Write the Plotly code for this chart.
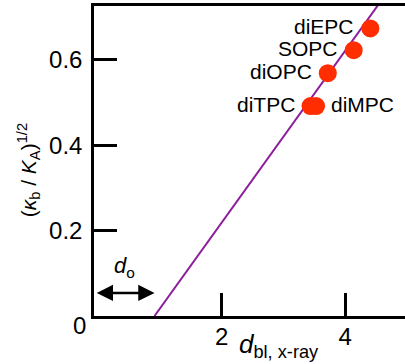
import plotly.graph_objects as go

# ---- data ----
lipids = ["diEPC", "SOPC", "diOPC", "diTPC", "diMPC"]
d_bl = [4.41, 4.14, 3.72, 3.44, 3.53]
ratio = [0.674, 0.623, 0.569, 0.492, 0.492]
label_side = ["left", "left", "left", "left", "right"]

# linear fit: (kb/KA)^1/2 = slope * (d_bl - d_o)
d_o = 0.91
slope = 0.201
fit_x = [d_o, 4.8]
fit_y = [slope * (x - d_o) for x in fit_x]

x_range = [-0.071, 4.972]
y_range = [0, 0.7265]
x_ticks = [2, 4]
y_ticks = [0.2, 0.4, 0.6]
y_ticktext = ["0.2", "0.4", "0.6"]

FONT = "Liberation Sans, Arial, Helvetica, sans-serif"
PURPLE = "rgb(140,30,155)"
RED = "rgb(255,45,0)"

fig = go.Figure()
fig.add_trace(go.Scatter(x=fit_x, y=fit_y, mode="lines",
                         line=dict(color=PURPLE, width=2), hoverinfo="skip"))
fig.add_trace(go.Scatter(x=d_bl, y=ratio, mode="markers",
                         marker=dict(color=RED, size=18, line=dict(width=0)),
                         cliponaxis=False))

annotations = []
for name, x, y, side in zip(lipids, d_bl, ratio, label_side):
    annotations.append(dict(
        x=x, y=y, xref="x", yref="y", text=name, showarrow=False,
        xanchor="right" if side == "left" else "left",
        xshift=-14 if side == "left" else 13, yshift=2,
        font=dict(family=FONT, size=21, color="black")))

# double-headed arrow for d_o
arrow_y = 0.054
annotations.append(dict(
    x=d_o, y=arrow_y, ax=x_range[0] + 0.02, ay=arrow_y, xref="x", yref="y",
    axref="x", ayref="y", text="", showarrow=True, arrowhead=2,
    startarrowhead=2, arrowside="end+start", arrowwidth=2.5, arrowsize=1.3,
    startarrowsize=1.3, arrowcolor="black", standoff=0, startstandoff=0))
annotations.append(dict(
    x=0.42, y=0.115, xref="x", yref="y", showarrow=False,
    text="<i>d</i><sub>o</sub>",
    font=dict(family=FONT, size=22, color="black")))

# "0" label at origin
annotations.append(dict(
    x=0, y=0, xref="paper", yref="paper", text="0", showarrow=False,
    xanchor="right", yanchor="middle", xshift=-6, yshift=-9,
    font=dict(family=FONT, size=24, color="black")))

# axis titles
annotations.append(dict(
    x=(279 - 94) / 311, y=-0.155, xref="paper", yref="paper",
    text="<i>d</i><sub>bl, x-ray</sub>", showarrow=False,
    xanchor="center", yanchor="bottom",
    font=dict(family=FONT, size=26, color="black")))
annotations.append(dict(
    x=-0.212, y=0.47, xref="paper", yref="paper", textangle=-90,
    text="(<i>κ</i><sub>b</sub> / <i>K</i><sub>A</sub>)<sup>1/2</sup>",
    showarrow=False, xanchor="center", yanchor="middle",
    font=dict(family=FONT, size=21, color="black")))

axis_common = dict(showline=True, linecolor="black", linewidth=2.5,
                   ticks="inside", ticklen=23, tickwidth=2.5, tickcolor="black",
                   showgrid=False, zeroline=False,
                   tickfont=dict(family=FONT, size=24, color="black"))

fig.update_layout(
    width=405, height=364,
    margin=dict(l=94, r=0, t=6, b=48),
    paper_bgcolor="white", plot_bgcolor="white",
    showlegend=False,
    xaxis=dict(range=x_range, tickvals=x_ticks, mirror=True,
               ticklabelstandoff=-3, **axis_common),
    yaxis=dict(range=y_range, tickvals=y_ticks, ticktext=y_ticktext,
               ticklabelstandoff=4, **axis_common),
    annotations=annotations,
)

fig.write_html("out.html",
               config={"displayModeBar": False},
               post_script="document.body.style.margin='0';"
                           "document.body.style.overflow='hidden';")
